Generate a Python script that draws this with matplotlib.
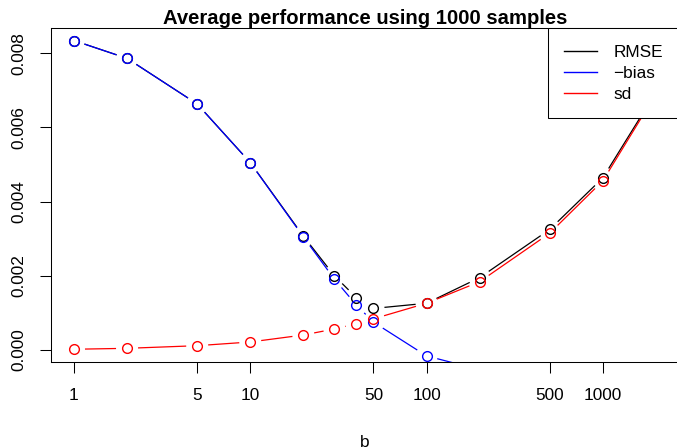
import numpy as np
import matplotlib
matplotlib.use("Agg")
import matplotlib.pyplot as plt
from matplotlib.lines import Line2D
from matplotlib.ticker import FixedLocator, FixedFormatter, NullLocator

# ── Data ──────────────────────────────────────────────────────────────────────
b_values = [1, 2, 5, 10, 20, 30, 40, 50, 100, 200, 500, 1000, 2000]
rmse = [0.00834, 0.00786, 0.00663, 0.00505, 0.00307, 0.00200, 0.00141, 0.00112,
        0.00126, 0.00195, 0.00325, 0.00464, 0.00695]
neg_bias = [0.00834, 0.00786, 0.00663, 0.00505, 0.00305, 0.00191, 0.00121, 0.00075,
            -0.00016, -0.00053, -0.00120, -0.00180, -0.00250]
sd = [0.00002, 0.000045, 0.000116, 0.000216, 0.000404, 0.000566, 0.00071, 0.00084,
      0.00126, 0.00184, 0.00315, 0.00456, 0.00690]

x_ticks = [1, 5, 10, 50, 100, 500, 1000]
x_tick_labels = ["1", "5", "10", "50", "100", "500", "1000"]
y_ticks = [0.000, 0.002, 0.004, 0.006, 0.008]
y_tick_labels = ["0.000", "0.002", "0.004", "0.006", "0.008"]

series = [("RMSE", rmse, "black"), ("\u2212bias", neg_bias, "blue"), ("sd", sd, "red")]

# ── Figure ────────────────────────────────────────────────────────────────────
W, H, DPI = 677, 448, 100
plt.rcParams["font.family"] = ["Liberation Sans", "DejaVu Sans"]
FS = 12.4

fig = plt.figure(figsize=(W / DPI, H / DPI), dpi=DPI)
# plot region in pixels (R-like, right edge runs slightly past the image)
left, right, top, bottom = 50.7, 679.2, 28.2, 361.6
ax = fig.add_axes([left / W, 1 - bottom / H, (right - left) / W, (bottom - top) / H])

ax.set_xscale("log")
lo, hi = np.log10(min(b_values)), np.log10(max(b_values))
pad = 0.04 * (hi - lo)
ax.set_xlim(10 ** (lo - pad), 10 ** (hi + pad))
ylo, yhi = min(sd), max(neg_bias)
ypad = 0.04 * (yhi - ylo)
ax.set_ylim(ylo - ypad, yhi + ypad)

GAP = 11  # px gap around points, like R type="b"


def draw_b(ax, x, y, color):
    pts = ax.transData.transform(np.column_stack([x, y]))
    inv = ax.transData.inverted()
    for p0, p1 in zip(pts[:-1], pts[1:]):
        d = p1 - p0
        L = np.hypot(*d)
        if L <= 2 * GAP:
            continue
        u = d / L
        seg = inv.transform(np.array([p0 + u * GAP, p1 - u * GAP]))
        ax.plot(seg[:, 0], seg[:, 1], color=color, lw=0.9, solid_capstyle="butt")
    ax.plot(x, y, linestyle="none", marker="o", ms=7, mfc="none", mec=color, mew=1.0)


for name, vals, col in series:
    draw_b(ax, b_values, vals, col)

ax.xaxis.set_major_locator(FixedLocator(x_ticks))
ax.xaxis.set_major_formatter(FixedFormatter(x_tick_labels))
ax.xaxis.set_minor_locator(NullLocator())
ax.yaxis.set_major_locator(FixedLocator(y_ticks))
ax.yaxis.set_major_formatter(FixedFormatter(y_tick_labels))

ax.tick_params(axis="both", direction="out", length=8.2, width=0.75, labelsize=FS, colors="black")
ax.tick_params(axis="x", pad=11)
ax.tick_params(axis="y", pad=9, labelrotation=90)
for lab in ax.get_yticklabels():
    lab.set_va("center")
for sp in ax.spines.values():
    sp.set_linewidth(0.75)
    sp.set_color("black")

handles = [Line2D([], [], color=c, lw=1) for _, _, c in series]
leg = ax.legend(handles, [n for n, _, _ in series], loc="upper right", bbox_to_anchor=(1, 1),
                borderaxespad=0, fancybox=False, framealpha=1, edgecolor="black",
                fontsize=FS, handlelength=1.9, handletextpad=0.95, borderpad=0.95,
                labelspacing=0.36)
leg.get_frame().set_linewidth(0.75)

cx = (left + right) / 2 / W
fig.text(cx, 1 - 24 / H, "Average performance using 1000 samples", ha="center",
         va="baseline", fontsize=14.6, fontweight="bold")
fig.text(cx, 1 - 446.5 / H, "b", ha="center", va="baseline", fontsize=FS)

fig.savefig("out.png", dpi=DPI)
